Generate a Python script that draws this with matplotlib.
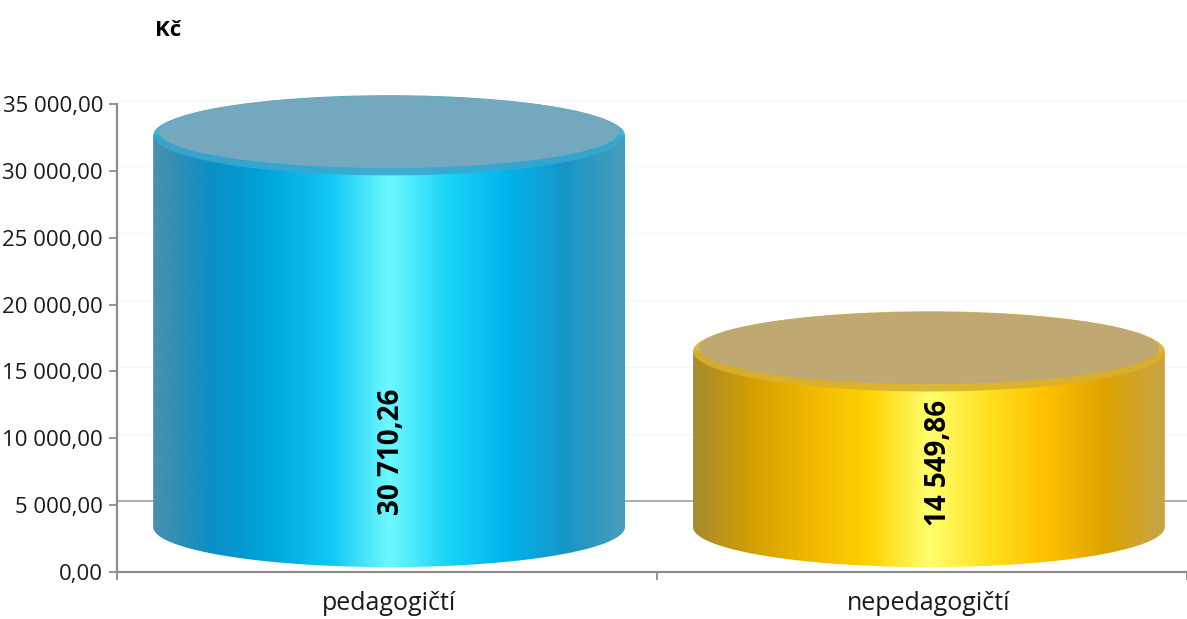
import numpy as np
import matplotlib
matplotlib.use("Agg")
import matplotlib.pyplot as plt
from matplotlib.patches import Ellipse, Polygon
from matplotlib.colors import LinearSegmentedColormap
from matplotlib.ticker import FuncFormatter, FixedLocator

# ---- data ----
categories = ["pedagogičtí", "nepedagogičtí"]
values = [30710.26, 14549.86]
value_labels = ["30 710,26", "14 549,86"]
yticks = [0, 5000, 10000, 15000, 20000, 25000, 30000, 35000]

# ---- style ----
body_colors = [
    ["#4a8fae", "#0a8fc4", "#00a6dc", "#10c8f4", "#6ff8ff", "#1ad4f8", "#00b4ec", "#1596c8", "#4a9cbc"],
    ["#a88a30", "#d4a000", "#f0b800", "#ffd400", "#ffff70", "#ffe020", "#ffc000", "#dca400", "#c8a448"],
]
top_colors = ["#74a8bf", "#bfa872"]
rim_colors = ["#3aa6cf", "#d9b030"]

plt.rcParams['font.family'] = ['Open Sans', 'DejaVu Sans']

W, H = 1187, 619
fig = plt.figure(figsize=(W / 100, H / 100), dpi=100)
px_per_unit = 468 / 35000.0
ymax = 36500
ax_left, ax_right = 117 / W, 1.0
ax_bottom = 1 - 572 / H
ax_top_px = 572 - ymax * px_per_unit
ax = fig.add_axes([ax_left, ax_bottom, ax_right - ax_left, (572 - ax_top_px) / H])
ax.set_xlim(-0.504, 1.478)
ax.set_ylim(0, ymax)

for s in ["top", "right"]:
    ax.spines[s].set_visible(False)
for s in ["left", "bottom"]:
    ax.spines[s].set_color("#8c8c8c")
    ax.spines[s].set_linewidth(1.6)
ax.spines["left"].set_bounds(0, 35000)

ax.yaxis.set_major_locator(FixedLocator(yticks))
ax.yaxis.set_major_formatter(FuncFormatter(lambda v, p: f"{v:,.2f}".replace(",", " ").replace(".", ",")))
ax.tick_params(axis="y", length=6, width=1.3, color="#8c8c8c", labelsize=16, pad=4, labelcolor="#1a1a1a")

ax.set_xticks([0, 1])
ax.set_xticklabels(categories)
ax.tick_params(axis="x", which="major", length=0, labelsize=18, pad=14, labelcolor="#1a1a1a")
ax.set_xticks([-0.504, 0.496, 1.478], minor=True)
ax.tick_params(axis="x", which="minor", length=6, width=1.3, color="#8c8c8c")

# faint back-wall gridlines
for t in yticks[1:]:
    ax.axhline(t + 330, color="#f6f6f6", lw=1, zorder=0)
# floor edge line
ax.axhline(5310, color="#a6a6a6", lw=1.3, zorder=1)

base = 3365
ry = 3000
rx = 0.437
for i, v in enumerate(values):
    xc = i
    top = v + 1950
    xl, xr = xc - rx, xc + rx
    th = np.linspace(np.pi, 2 * np.pi, 80)
    bottom_arc = np.column_stack([xc + rx * np.cos(th), base + ry * np.sin(th)])
    pts = np.vstack([[[xl, top]], [[xl, base]], bottom_arc, [[xr, base]], [[xr, top]]])
    poly = Polygon(pts, closed=True, facecolor="none", edgecolor="none", zorder=2)
    ax.add_patch(poly)
    cmap = LinearSegmentedColormap.from_list(f"c{i}", body_colors[i])
    grad = np.linspace(0, 1, 256).reshape(1, -1)
    im = ax.imshow(grad, cmap=cmap, aspect="auto", extent=[xl, xr, base - ry, top],
                   origin="lower", zorder=2, interpolation="bicubic")
    im.set_clip_path(poly)
    rim = Ellipse((xc, top), 2 * rx, 2 * ry, facecolor=rim_colors[i], edgecolor="none", zorder=3, alpha=0.9)
    ax.add_patch(rim)
    topell = Ellipse((xc, top + 250), 2 * rx * 0.975, 2 * ry * 0.9, facecolor=top_colors[i],
                     edgecolor="none", zorder=4)
    ax.add_patch(topell)

label_y = [8975, 8150]
label_dx = [0.004, 0.017]
for i, lab in enumerate(value_labels):
    ax.text(i + label_dx[i], label_y[i], lab, rotation=90, ha="center", va="center",
            fontsize=20, fontweight="bold", color="#000000", zorder=6)

fig.text(155 / W, 1 - 30 / H, "Kč", fontsize=16, fontweight="bold", ha="left", va="center", color="#000000")

fig.savefig("out.png", dpi=100)
